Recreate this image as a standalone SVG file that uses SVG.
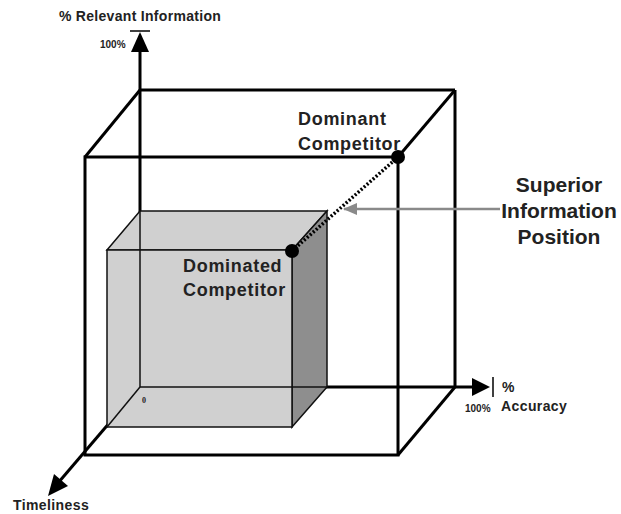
<svg xmlns="http://www.w3.org/2000/svg" width="621" height="514" viewBox="0 0 621 514">
<defs>
<style>
.ax{stroke:#000;stroke-width:3;fill:none}
.cube{stroke:#111;stroke-width:1.5}
.t{font-family:"Liberation Sans",Arial,sans-serif;font-weight:bold;fill:#222}
.m{font-size:18px;letter-spacing:0.7px}
.b{font-size:21px}
</style>
<marker id="gh" markerWidth="14" markerHeight="12" refX="13" refY="6" orient="auto" markerUnits="userSpaceOnUse"><path d="M0,0 L14,6 L0,12 Z" fill="#8a8a8a"/></marker>
</defs>
<rect width="621" height="514" fill="#fff"/>
<g id="axes">
<line class="ax" x1="140" y1="387" x2="140" y2="50"/>
<path d="M131,52 L140,32 L149,52 Z" fill="#000"/>
<line x1="130" y1="31" x2="150" y2="31" stroke="#000" stroke-width="1.5"/>
<line class="ax" x1="140" y1="387" x2="474" y2="387"/>
<path d="M472,378 L490,387 L472,396 Z" fill="#000"/>
<line x1="493" y1="377" x2="493" y2="397" stroke="#000" stroke-width="1.5"/>
<line class="ax" x1="140" y1="387" x2="58" y2="483"/>
<path d="M48,496 L54,474 L68,486 Z" fill="#000"/>
</g>
<g id="big-cube" class="ax">
<line x1="140" y1="90" x2="455" y2="90"/>
<line x1="455" y1="90" x2="455" y2="387"/>
<line x1="140" y1="90" x2="85" y2="157"/>
<line x1="455" y1="90" x2="398" y2="157"/>
<line x1="455" y1="387" x2="398" y2="455"/>
<rect x="85" y="157" width="313" height="298"/>
</g>
<g id="small-cube">
<polygon points="107,250 140,211 327,211 292,250" fill="#d0d0d0" class="cube"/>
<polygon points="292,250 327,211 327,387 292,427" fill="#8e8e8e" class="cube"/>
<rect x="107" y="250" width="185" height="177" fill="#d0d0d0" class="cube"/>
<line class="cube" x1="140" y1="211" x2="140" y2="387"/>
<line class="cube" x1="140" y1="387" x2="327" y2="387"/>
<line class="cube" x1="140" y1="387" x2="107" y2="427"/>
</g>
<g id="connectors">
<line x1="292" y1="251" x2="398" y2="157" stroke="#000" stroke-width="3.5" stroke-dasharray="2,2"/>
<line x1="500" y1="209" x2="344" y2="209" stroke="#8a8a8a" stroke-width="2.5" marker-end="url(#gh)"/>
</g>
<g id="dominant">
<circle cx="398" cy="157" r="7" fill="#000"/>
<text class="t m" x="298" y="125">Dominant</text>
<text class="t m" x="298" y="150">Competitor</text>
</g>
<g id="dominated">
<circle cx="292" cy="251" r="7" fill="#000"/>
<text class="t m" x="183" y="272">Dominated</text>
<text class="t m" x="183" y="296">Competitor</text>
</g>
<g id="superior">
<text class="t b" x="559" y="192" text-anchor="middle">Superior</text>
<text class="t b" x="559" y="218" text-anchor="middle">Information</text>
<text class="t b" x="559" y="244" text-anchor="middle">Position</text>
</g>
<g id="labels">
<text class="t" x="140" y="21" font-size="14" letter-spacing="0.3" text-anchor="middle">% Relevant Information</text>
<text class="t" x="100" y="48" font-size="10">100%</text>
<text class="t" x="502" y="392" font-size="14">%</text>
<text class="t" x="501" y="411" font-size="14" letter-spacing="0.4">Accuracy</text>
<text class="t" x="465" y="412" font-size="10">100%</text>
<text x="142" y="403" font-size="8" font-family="Liberation Serif,serif" font-weight="bold" fill="#222">0</text>
<text class="t" x="13" y="510" font-size="14" letter-spacing="0.4">Timeliness</text>
</g>
</svg>
